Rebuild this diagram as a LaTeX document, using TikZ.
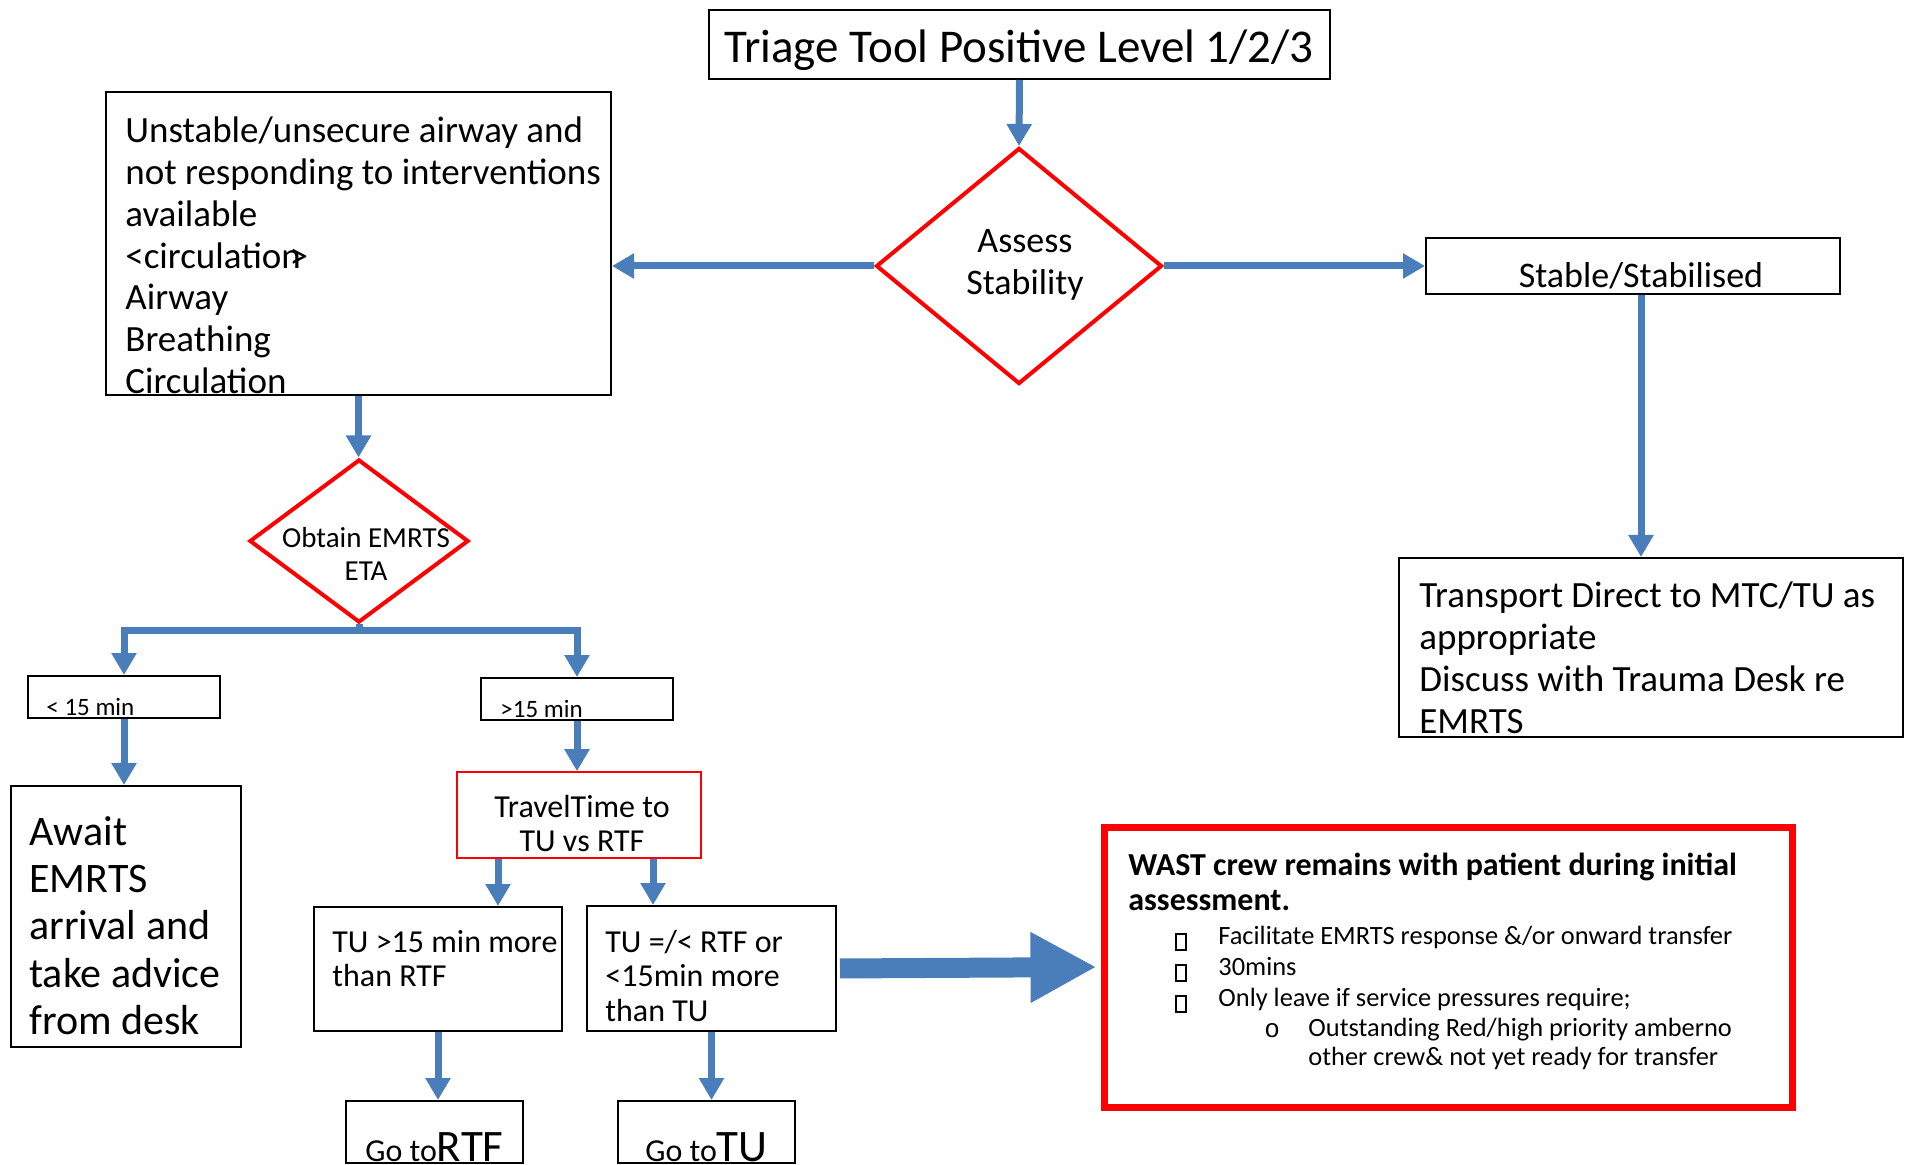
\documentclass[tikz,border=0pt]{standalone}
\usepackage{fontspec}
\setmainfont{Carlito}
\newfontfamily\circfont{Liberation Mono}
\usetikzlibrary{arrows.meta,shapes.geometric,fit}
\definecolor{arrblue}{HTML}{4A7EBB}
\definecolor{myred}{HTML}{FF0000}
\newcommand\fsz[2]{\fontsize{#1}{#2}\selectfont}
\newcommand\tofu{{\setlength\fboxsep{0pt}\setlength\fboxrule{0.9pt}\fbox{\rule[-2.5pt]{0pt}{7pt}\hspace{4pt}}}}
\begin{document}
\begin{tikzpicture}[x=0.5pt,y=-0.5pt,
  box/.style={draw=black, line width=1pt, inner sep=0pt},
  redthin/.style={draw=myred, line width=0.8pt, inner sep=0pt},
  redthick/.style={draw=myred, line width=3.5pt, inner sep=0pt},
  dia/.style={diamond, draw=myred, line width=2pt, inner sep=0pt, aspect=1},
  txt/.style={inner sep=0pt, anchor=base west},
  ctxt/.style={inner sep=0pt, anchor=base},
  arr/.style={draw=arrblue, line width=3.5pt, -{Triangle[width=12pt,length=11pt]}},
  bigarr/.style={draw=arrblue, line width=10pt, -{Triangle[width=33pt,length=33pt]}}]
\useasboundingbox (0,0) rectangle (1906,1165);

% ---------- boxes ----------
\node[box, fit={(709,10) (1330,79)}] (title) {};
\node[box, fit={(106,92) (611,395)}] (unstable) {};
\node[dia, minimum width=143pt, minimum height=118pt] (assess) at (1019,266) {};
\node[box, fit={(1426,238) (1840,294)}] (stable) {};
\node[box, fit={(1399,558) (1903,737)}] (transport) {};
\node[dia, minimum width=109.5pt, minimum height=81.5pt] (obtain) at (359,541) {};
\node[box, fit={(28,676) (220,718)}] (lt) {};
\node[box, fit={(481,678) (673,720)}] (gt) {};
\node[box, fit={(11,786) (241,1047)}] (await) {};
\node[redthin, fit={(457,772) (701,858)}] (travel) {};
\node[box, fit={(314,907) (562,1031)}] (tu1) {};
\node[box, fit={(587,906) (836,1031)}] (tu2) {};
\node[box, fit={(346,1101) (523,1163)}] (gortf) {};
\node[box, fit={(618,1101) (795,1163)}] (gotu) {};
\node[redthick, fit={(1104,827) (1792,1107)}] (wast) {};

% ---------- texts ----------
\node[ctxt, font={\fsz{23.5}{28}}] (titletxt) at (1019,63) {Triage Tool Positive Level 1/2/3};
\node[txt, font={\fsz{18.5}{20.85}}] (unsttxt) at (125,143) {\parbox[t]{260pt}{\raggedright Unstable/unsecure airway and\\ not responding to interventions\\ available\\ <circulation\kern-0.3em>\\ Airway\\ Breathing\\ Circulation}};
\node[ctxt, font={\fsz{18}{21}}] (assesstxt) at (1025,253) {\parbox[t]{100pt}{\centering Assess\\ Stability}};
\node[ctxt, font={\fsz{18}{21}}] (stabletxt) at (1641,288) {Stable/Stabilised};
\node[txt, font={\fsz{18.5}{20.85}}] (transtxt) at (1419,608) {\parbox[t]{250pt}{\raggedright Transport Direct to MTC/TU as\\ appropriate\\ Discuss with Trauma Desk re\\ EMRTS}};
\node[ctxt, font={\fsz{14.5}{16.5}}] (obtaintxt) at (366,548) {\parbox[t]{100pt}{\centering Obtain EMRTS\\ ETA}};
\node[txt, font={\fsz{12.5}{15}}] (lttxt) at (46,715) {< 15 min};
\node[txt, font={\fsz{12.5}{15}}] (gttxt) at (500,717) {>15 min};
\node[txt, font={\fsz{21}{23.7}}] (awaittxt) at (29,845) {\parbox[t]{110pt}{\raggedright Await\\ EMRTS\\ arrival and\\ take advice\\ from desk}};
\node[ctxt, font={\fsz{16}{17}}] (traveltxt) at (582,817) {\parbox[t]{110pt}{\centering TravelTime to\\ TU vs RTF}};
\node[txt, font={\fsz{16}{17.4}}] (tu1txt) at (332,952) {\parbox[t]{120pt}{\raggedright TU >15 min more\\ than RTF}};
\node[txt, font={\fsz{16}{17.4}}] (tu2txt) at (605,952) {\parbox[t]{120pt}{\raggedright TU =/< RTF or\\ <15min more\\ than TU}};
\node[txt] (gortftxt) at (365,1161) {\fsz{16}{18}Go to\fsz{22.5}{26}RTF};
\node[txt] (gotutxt) at (645,1161) {\fsz{16}{18}Go to\fsz{22.5}{26}TU};

\node[txt, font={\bfseries\fsz{16}{17.5}}] (wasthead) at (1128,875) {\parbox[t]{330pt}{\raggedright WAST crew remains with patient during initial\\ assessment.}};
\node[txt] (b1) at (1175,944) {\tofu};
\node[txt] (b2) at (1175,975) {\tofu};
\node[txt] (b3) at (1175,1006) {\tofu};
\node[txt, font={\fsz{13.2}{15.2}}] (i1) at (1218,944) {Facilitate EMRTS response \&/or onward transfer};
\node[txt, font={\fsz{13.2}{15.2}}] (i2) at (1218,975) {30mins};
\node[txt, font={\fsz{13.2}{15.2}}] (i3) at (1218,1006) {Only leave if service pressures require;};
\node[txt, font={\circfont\fsz{13}{15}}] (c1) at (1264,1037) {o};
\node[txt, font={\fsz{13.2}{14.5}}] (i4) at (1308,1036) {\parbox[t]{250pt}{\raggedright Outstanding Red/high priority amberno\\ other crew\& not yet ready for transfer}};

% ---------- connectors ----------
\draw[arr] (title.south) -- (assess.north);
\draw[arr] (assess.west) -- (assess.west -| unstable.east);
\draw[arr] (assess.east) -- (assess.east -| stable.west);
\draw[arr] ([xshift=4pt]stable.south) -- ([xshift=4pt]stable.south |- transport.north);
\draw[arr] (unstable.south) -- (unstable.south |- obtain.north);
\coordinate (bar) at (359,631);
\draw[arr] (obtain.south) -- (bar) -| (lt.north);
\draw[arr] (obtain.south) -- (bar) -| (gt.north);
\draw[arr] (lt.south) -- (lt.south |- await.north);
\draw[arr] (gt.south) -- (gt.south |- travel.north);
\draw[arr] ([xshift=-40.5pt]travel.south) -- ([xshift=-40.5pt]travel.south |- tu1.north);
\draw[arr] ([xshift=37pt]travel.south) -- ([xshift=37pt]travel.south |- tu2.north);
\draw[arr] (tu1.south) -- (tu1.south |- gortf.north);
\draw[arr] (tu2.south) -- (tu2.south |- gotu.north);
\draw[bigarr, shorten <=1.5pt, shorten >=2pt] (tu2.east) -- (wast.west);
\end{tikzpicture}
\end{document}
